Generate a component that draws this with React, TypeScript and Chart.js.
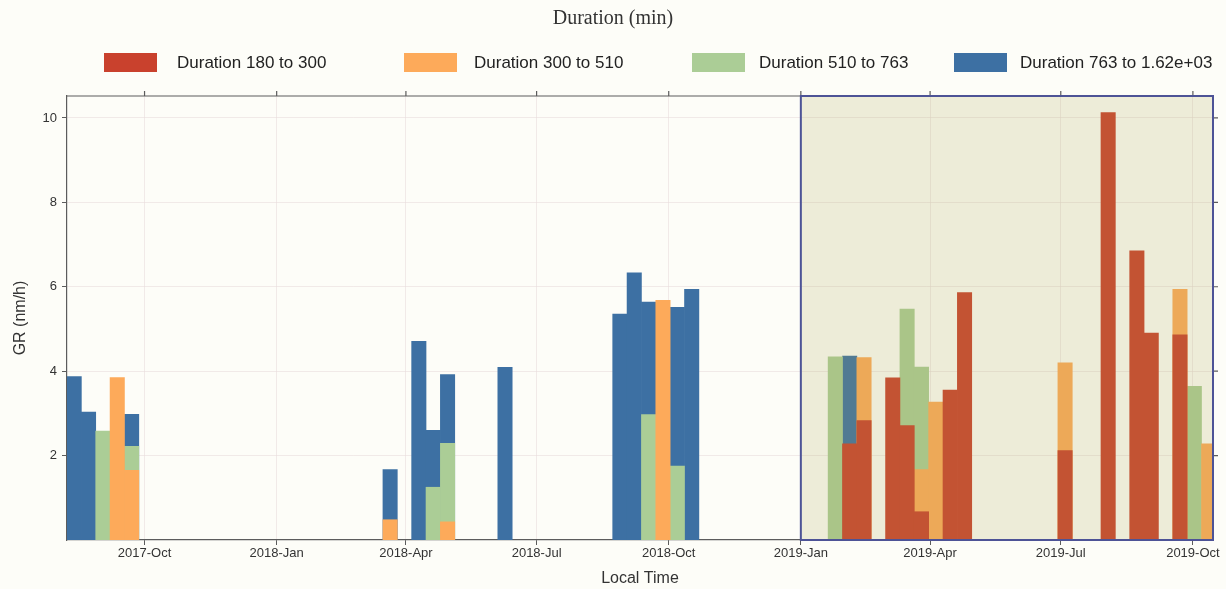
import { useEffect, useRef } from 'react';
import { Chart, registerables } from 'chart.js';

Chart.register(...registerables);

// ---- data ----
const BIN_DAYS = 10;
const AXIS_START = '2017-08-08';
const AXIS_END = '2019-10-15';
const SHADE_START = '2019-01-01';
const Y_MAX = 10.52;

const chartTitle = 'Duration (min)';
const xTitle = 'Local Time';
const yTitle = 'GR (nm/h)';

const seriesLabels = [
  'Duration 180 to 300',
  'Duration 300 to 510',
  'Duration 510 to 763',
  'Duration 763 to 1.62e+03',
];
const seriesColors = ['#c9412d', '#fdaa5a', '#abcd96', '#3d70a3'];

// bin start dates (10-day bins) and GR values
const redBins = ['2019-01-30', '2019-02-09', '2019-03-01', '2019-03-11', '2019-03-21', '2019-04-10', '2019-04-20', '2019-06-29', '2019-07-29', '2019-08-18', '2019-08-28', '2019-09-17'];
const redValues = [2.28, 2.83, 3.84, 2.71, 0.67, 3.55, 5.86, 2.12, 10.13, 6.85, 4.9, 4.86];

const orangeBins = ['2017-09-07', '2017-09-17', '2018-03-16', '2018-04-25', '2018-09-22', '2019-02-09', '2019-03-21', '2019-03-31', '2019-06-29', '2019-09-17', '2019-10-07'];
const orangeValues = [3.85, 1.65, 0.48, 0.43, 5.68, 4.32, 1.67, 3.27, 4.2, 5.94, 2.28];

const greenBins = ['2017-08-28', '2017-09-17', '2018-04-15', '2018-04-25', '2018-09-12', '2018-10-02', '2019-01-20', '2019-03-11', '2019-03-21', '2019-09-27'];
const greenValues = [2.58, 2.22, 1.25, 2.29, 2.97, 1.75, 4.34, 5.47, 4.1, 3.64];

const blueBins = ['2017-08-08', '2017-08-18', '2017-09-17', '2018-03-16', '2018-04-05', '2018-04-15', '2018-04-25', '2018-06-04', '2018-08-23', '2018-09-02', '2018-09-12', '2018-10-02', '2018-10-12', '2019-01-30'];
const blueValues = [3.87, 3.03, 2.98, 1.67, 4.71, 2.6, 3.92, 4.09, 5.35, 6.33, 5.64, 5.51, 5.94, 4.36];

const monthTicks = ['2017-10-01', '2018-01-01', '2018-04-01', '2018-07-01', '2018-10-01', '2019-01-01', '2019-04-01', '2019-07-01', '2019-10-01'];
const monthTickLabels = ['2017-Oct', '2018-Jan', '2018-Apr', '2018-Jul', '2018-Oct', '2019-Jan', '2019-Apr', '2019-Jul', '2019-Oct'];
const yTicks = [2, 4, 6, 8, 10];

// ---- helpers ----
const dayNum = (s: string) => {
  const [y, m, d] = s.split('-').map(Number);
  return Date.UTC(y, m - 1, d) / 86400000;
};
const toPoints = (bins: string[], vals: number[]) =>
  bins.map((b, i) => ({ x: dayNum(b) + BIN_DAYS / 2, y: vals[i] }));

const FONT = 'Arial, "Liberation Sans", sans-serif';
const AXIS_COLOR = '#5c5c5c';
const GRID_COLOR = 'rgba(232,218,218,0.55)';

const decorPlugin = {
  id: 'decor',
  beforeDraw(chart: any) {
    const { ctx, width, height } = chart;
    ctx.save();
    ctx.fillStyle = '#fdfdf8';
    ctx.fillRect(0, 0, width, height);
    ctx.restore();
  },
  afterDatasetsDraw(chart: any) {
    const { ctx, chartArea } = chart;
    const xs = chart.scales.x;
    const ys = chart.scales.y;
    ctx.save();
    // frame: top and right lines with outward ticks
    ctx.strokeStyle = AXIS_COLOR;
    ctx.lineWidth = 1.2;
    ctx.beginPath();
    ctx.moveTo(chartArea.left, chartArea.top);
    ctx.lineTo(chartArea.right, chartArea.top);
    ctx.lineTo(chartArea.right, chartArea.bottom);
    ctx.stroke();
    ctx.beginPath();
    monthTicks.forEach((t) => {
      const px = xs.getPixelForValue(dayNum(t));
      ctx.moveTo(px, chartArea.top);
      ctx.lineTo(px, chartArea.top - 5);
    });
    yTicks.forEach((t) => {
      const py = ys.getPixelForValue(t);
      ctx.moveTo(chartArea.right, py);
      ctx.lineTo(chartArea.right + 5, py);
    });
    ctx.stroke();
    // shaded highlight region
    const x0 = xs.getPixelForValue(dayNum(SHADE_START));
    ctx.fillStyle = 'rgba(170,165,80,0.19)';
    ctx.fillRect(x0, chartArea.top, chartArea.right - x0, chartArea.bottom - chartArea.top);
    ctx.strokeStyle = '#4d5396';
    ctx.lineWidth = 2;
    ctx.strokeRect(x0, chartArea.top, chartArea.right - x0, chartArea.bottom - chartArea.top);
    ctx.restore();
  },
  afterDraw(chart: any) {
    const { ctx } = chart;
    ctx.save();
    // title
    ctx.fillStyle = '#333';
    ctx.font = '20px "Liberation Serif", "Times New Roman", serif';
    ctx.textAlign = 'center';
    ctx.textBaseline = 'middle';
    ctx.fillText(chartTitle, 613, 19);
    // legend
    const boxX = [104, 404, 692, 954];
    const textX = [177, 474, 759, 1020];
    ctx.font = '17px ' + FONT;
    ctx.textAlign = 'left';
    seriesLabels.forEach((lab, i) => {
      ctx.fillStyle = seriesColors[i];
      ctx.fillRect(boxX[i], 53, 53, 19);
      ctx.fillStyle = '#222';
      ctx.fillText(lab, textX[i], 63);
    });
    ctx.restore();
  },
};

export default function App() {
  const ref = useRef<HTMLCanvasElement | null>(null);

  useEffect(() => {
    if (!ref.current) return;
    const seriesBins = [redBins, orangeBins, greenBins, blueBins];
    const seriesVals = [redValues, orangeValues, greenValues, blueValues];
    const chart = new Chart(ref.current, {
      type: 'bar',
      data: {
        datasets: seriesLabels.map((label, i) => ({
          label,
          data: toPoints(seriesBins[i], seriesVals[i]),
          backgroundColor: seriesColors[i],
          borderWidth: 0,
          grouped: false,
          barPercentage: 1,
          categoryPercentage: 1,
        })),
      },
      options: {
        animation: false,
        responsive: false,
        events: [],
        layout: { padding: { top: 96, right: 13, left: 0, bottom: 0 } },
        plugins: {
          legend: { display: false },
          title: { display: false },
          tooltip: { enabled: false },
        },
        scales: {
          x: {
            type: 'linear',
            offset: false,
            min: dayNum(AXIS_START),
            max: dayNum(AXIS_END),
            afterBuildTicks: (s: any) => {
              s.ticks = monthTicks.map((t) => ({ value: dayNum(t) }));
            },
            afterFit: (s: any) => {
              s.height = 49;
            },
            ticks: {
              autoSkip: false,
              maxRotation: 0,
              padding: 1,
              color: '#333',
              font: { family: FONT, size: 13 },
              callback: (v: any) => {
                const idx = monthTicks.findIndex((t) => dayNum(t) === v);
                return idx >= 0 ? monthTickLabels[idx] : '';
              },
            },
            grid: {
              offset: false,
              color: GRID_COLOR,
              tickColor: AXIS_COLOR,
              tickLength: 5,
              drawTicks: true,
            },
            border: { color: AXIS_COLOR, width: 1.2 },
            title: {
              display: true,
              text: xTitle,
              color: '#333',
              font: { family: FONT, size: 16 },
              padding: { top: 0, bottom: 1 },
            },
          },
          y: {
            type: 'linear',
            min: 0,
            max: Y_MAX,
            afterBuildTicks: (s: any) => {
              s.ticks = yTicks.map((v) => ({ value: v }));
            },
            afterFit: (s: any) => {
              s.width = 67;
            },
            ticks: {
              padding: 5,
              color: '#333',
              font: { family: FONT, size: 13 },
              callback: (v: any) => String(v),
            },
            grid: {
              color: GRID_COLOR,
              tickColor: AXIS_COLOR,
              tickLength: 5,
              drawTicks: true,
            },
            border: { color: AXIS_COLOR, width: 1.2 },
            title: {
              display: true,
              text: yTitle,
              color: '#333',
              font: { family: FONT, size: 16 },
              padding: { top: 11, bottom: 0 },
            },
          },
        },
      } as any,
      plugins: [decorPlugin],
    });
    return () => chart.destroy();
  }, []);

  return (
    <div
      style={{
        position: 'absolute',
        left: 0,
        top: 0,
        width: 1226,
        height: 589,
        background: '#fdfdf8',
      }}
    >
      <canvas ref={ref} width={1226} height={589} style={{ display: 'block' }} />
    </div>
  );
}
